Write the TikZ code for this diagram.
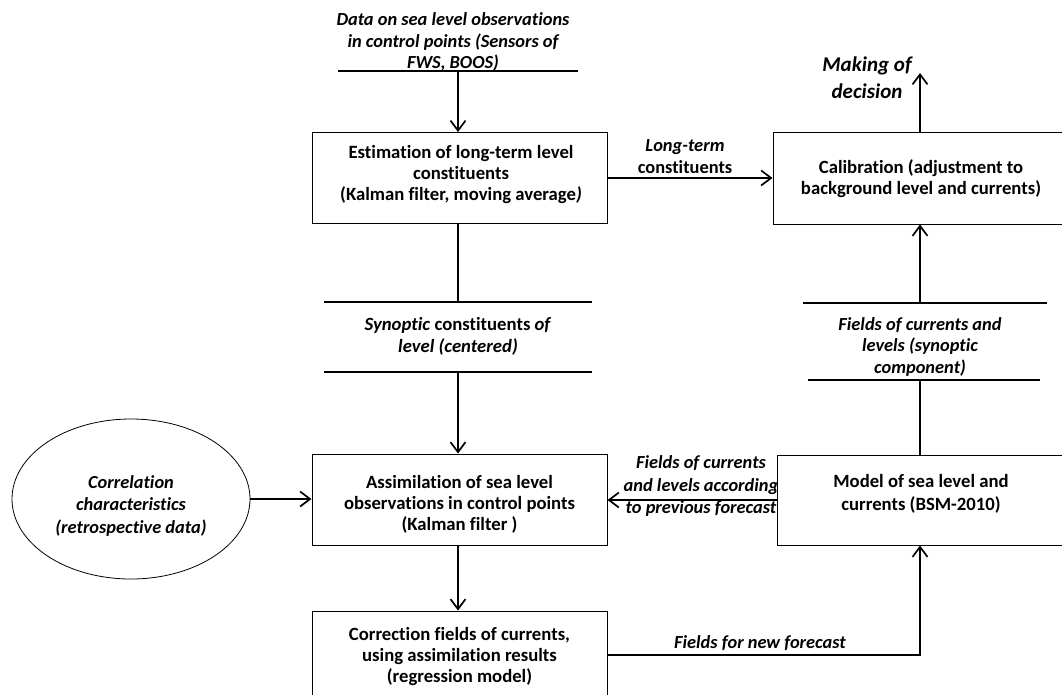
\documentclass[tikz,border=0pt]{standalone}
\usepackage{fontspec}
\setmainfont{Carlito}[Ligatures=NoCommon]
\usetikzlibrary{arrows.meta,shapes.geometric,calc}
\begin{document}
\begin{tikzpicture}[x=1pt,y=-1pt,
  every node/.style={font=\fontsize{18.7}{21}\selectfont\bfseries, align=center, inner sep=0pt},
  box/.style={draw, line width=1pt, minimum width=295pt, minimum height=91pt},
  lbl/.style={font=\fontsize{18.4}{21.5}\selectfont\bfseries\itshape},
  conn/.style={line width=1.8pt, -{Straight Barb[length=10pt,width=15pt,line width=1.7pt]}},
  seg/.style={line width=1.8pt}
]
\useasboundingbox (0,0) rectangle (1062,694);

% frames
\node[box] (est) at (459.5,178) {};
\node[box] (asm) at (459.5,499.5) {};
\node[box, minimum height=88pt] (cor) at (459.5,655) {};
\node[draw, line width=0.8pt, ellipse, minimum width=238pt, minimum height=160pt] (ell) at (131,499) {};
\node[box, minimum width=296pt, minimum height=92pt] (cal) at (921,178) {};
\node[box, minimum width=292pt, minimum height=90pt] (mod) at (923,500) {};

% texts
\node (estt) at (461,174.5) {Estimation of long-term level\\constituents\\(Kalman filter, moving average\textit{)}};
\node (asmt) at (459.5,504.5) {Assimilation of sea level\\observations in control points\\(Kalman filter )};
\node (cort) at (459.5,657) {Correction fields of currents,\\using assimilation results\\(regression model)};
\node[lbl, font=\fontsize{18.4}{22.5}\selectfont\bfseries\itshape] (ellt) at (131,505.5) {Correlation\\characteristics\\(retrospective data)};
\node (calt) at (921,179) {Calibration (adjustment to\\background level and currents)};
\node[font=\fontsize{18.7}{23}\selectfont\bfseries] (modt) at (921,493.5) {Model of sea level and\\currents (BSM-2010)};
\node[lbl] (dat) at (453,42) {Data on sea level observations\\in control points (Sensors of\\FWS, BOOS)};
\node[font=\fontsize{18.7}{22}\selectfont\bfseries] (syn) at (458,336) {\textit{Synoptic} constituents \textit{of}\\\textit{level (centered)}};
\node[lbl] (ltl) at (685,156.5) {Long-term\\\textup{constituents}};
\node[lbl] (rfl) at (920,346.5) {Fields of currents and\\levels (synoptic\\component)};
\node[lbl, font=\fontsize{18.4}{22.5}\selectfont\bfseries\itshape] (mfl) at (701,486) {Fields of currents\\and levels according\\to previous forecast};
\node[lbl] (nfl) at (760,643) {Fields for new forecast};
\node[lbl, font=\fontsize{21}{27}\selectfont\bfseries\itshape] (mak) at (867,77.5) {Making of\\decision};

% helper coordinates
\coordinate (datL) at (338,71);
\coordinate (datR) at (578,71);
\coordinate (datM) at (458,71);
\coordinate (synT) at (458,302);
\coordinate (synTL) at (324,302);
\coordinate (synTR) at (592,302);
\coordinate (synB) at (458,372);
\coordinate (synBL) at (324,372);
\coordinate (synBR) at (592,372);
\coordinate (rc) at (920,0);
\coordinate (rT) at (920,303);
\coordinate (rTL) at (803,303);
\coordinate (rTR) at (1047,303);
\coordinate (rB) at (920,380);
\coordinate (rBL) at (808,380);
\coordinate (rBR) at (1040,380);
\coordinate (dec) at (920,73);

% text underlines
\draw[seg] (datL) -- (datR);
\draw[seg] (synTL) -- (synTR);
\draw[seg] (synBL) -- (synBR);
\draw[seg] (rTL) -- (rTR);
\draw[seg] (rBL) -- (rBR);

% connectors
\draw[conn] (datM) -- (datM |- est.north);
\draw[seg] (synT |- est.south) -- (synT);
\draw[conn] (synB) -- (synB |- asm.north);
\draw[conn] (est.east) -- (cal.west |- est.east);
\draw[conn] (ell.east) -- (asm.west |- ell.east);
\draw[conn] (datM |- asm.south) -- (datM |- cor.north);
\draw[conn] (cor.east) -| (rc |- mod.south);
\draw[conn] (mod.west) -- (asm.east |- mod.west);
\draw[seg] (rc |- mod.north) -- (rB);
\draw[conn] (rT) -- (rc |- cal.south);
\draw[conn] (rc |- cal.north) -- (dec);
\end{tikzpicture}
\end{document}
